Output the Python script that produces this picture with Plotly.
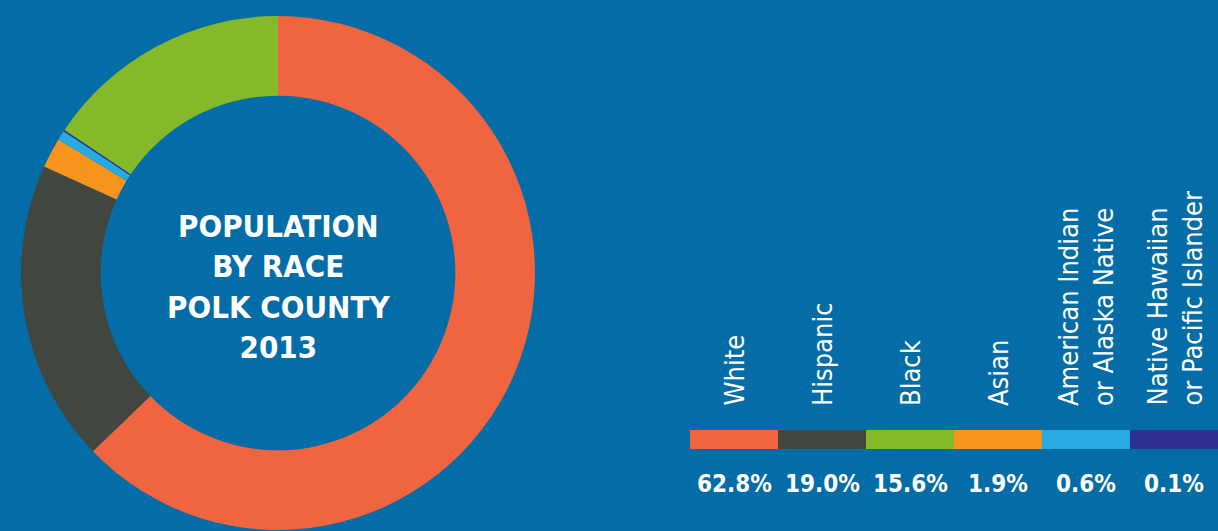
import plotly.graph_objects as go

# ---- data ----
categories = ["White", "Hispanic", "Black", "Asian",
              "American Indian<br>or Alaska Native", "Native Hawaiian<br>or Pacific Islander"]
values = [62.8, 19.0, 15.6, 1.9, 0.6, 0.1]
pct_labels = ["62.8%", "19.0%", "15.6%", "1.9%", "0.6%", "0.1%"]
colors = ["#F0643F", "#41463F", "#86B92A", "#F7941E", "#27A9E1", "#2E3192"]

# order of slices around the donut (clockwise from 12 o'clock)
pie_order = [0, 1, 3, 4, 5, 2]

BG = "#046CA6"
W, H = 1218, 531
NARROW = "Liberation Sans Narrow, DejaVu Sans Condensed, Arial Narrow, sans-serif"

fig = go.Figure()

# donut
cx, cy, R = 278, 273, 257
fig.add_trace(go.Pie(
    labels=[categories[i] for i in pie_order],
    values=[values[i] for i in pie_order],
    marker=dict(colors=[colors[i] for i in pie_order], line=dict(width=0)),
    hole=0.69, sort=False, direction="clockwise", rotation=0,
    textinfo="none", hoverinfo="label+percent", showlegend=False,
    domain=dict(x=[(cx - R) / W, (cx + R) / W], y=[1 - (cy + R) / H, 1 - (cy - R) / H]),
))

# legend color strip as bars
fig.add_trace(go.Bar(
    x=categories, y=[1] * len(categories), width=1,
    marker=dict(color=colors, line=dict(width=0)),
    showlegend=False, hoverinfo="x", xaxis="x", yaxis="y",
))

# center title
fig.add_annotation(
    x=cx / W, y=1 - 286 / H, xref="paper", yref="paper",
    xanchor="center", yanchor="middle",
    text="<b>POPULATION<br>BY RACE<br>POLK COUNTY<br>2013</b>",
    showarrow=False, align="center",
    font=dict(family=NARROW, size=31, color="white"),
)

# rotated category labels and percentages
for cat, pct in zip(categories, pct_labels):
    fig.add_annotation(
        x=cat, y=1 - 408 / H, xref="x", yref="paper",
        text=cat, textangle=-90, showarrow=False, align="left",
        xanchor="center", yanchor="bottom",
        font=dict(family=NARROW, size=27, color="white"),
    )
    fig.add_annotation(
        x=cat, y=1 - 484 / H, xref="x", yref="paper",
        text="<b>" + pct + "</b>", showarrow=False,
        xanchor="center", yanchor="middle",
        font=dict(family=NARROW, size=24, color="white"),
    )

fig.update_layout(
    width=W, height=H,
    margin=dict(l=0, r=0, t=0, b=0),
    paper_bgcolor=BG, plot_bgcolor=BG,
    bargap=0,
    xaxis=dict(domain=[690 / W, 1.0], visible=False, fixedrange=True),
    yaxis=dict(domain=[1 - 449 / H, 1 - 430 / H], range=[0, 1], visible=False, fixedrange=True),
)

fig.write_html("out.html")
